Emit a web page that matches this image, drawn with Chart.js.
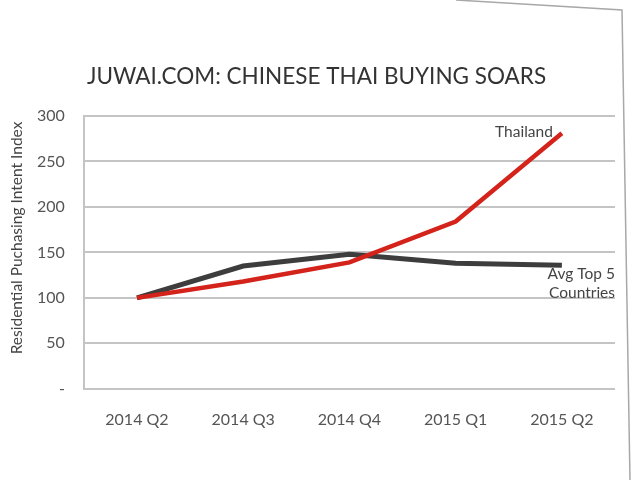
<!DOCTYPE html>
<html>
<head>
<meta charset="utf-8">
<script src="https://cdn.jsdelivr.net/npm/chart.js@4/dist/chart.umd.min.js"></script>
<style>
  html, body { margin: 0; padding: 0; background: #fff; }
  #wrap { width: 632px; height: 480px; }
</style>
</head>
<body>
<div id="wrap"><canvas id="juwaiChart" width="632" height="480"></canvas></div>
<script>
const quarters = ['2014 Q2', '2014 Q3', '2014 Q4', '2015 Q1', '2015 Q2'];
const thailand = [100, 118, 139, 184, 281];
const avgTop5 = [100, 135, 148, 138, 136];
const yTicks = [0, 50, 100, 150, 200, 250, 300];
const yTitle = 'Residential Puchasing Intent Index';

// paper edge, y title and end-of-line labels
const extras = {
    id: 'extras',
    afterDatasetsDraw(chart) {
        const ctx = chart.ctx;
        const x = chart.scales.x, y = chart.scales.y;
        const last = quarters.length - 1;
        ctx.save();
        ctx.font = '15.5px Lato';
        ctx.fillStyle = '#444';
        ctx.textAlign = 'right';
        ctx.textBaseline = 'middle';
        ctx.fillText('Thailand', x.getPixelForValue(last) - 9, y.getPixelForValue(thailand[last]) - 1);
        ctx.fillText('Avg Top 5', chart.chartArea.right, y.getPixelForValue(avgTop5[last]) + 9);
        ctx.fillText('Countries', chart.chartArea.right, y.getPixelForValue(avgTop5[last]) + 28);
        ctx.restore();

        ctx.save();
        ctx.translate(17, 238);
        ctx.rotate(-Math.PI / 2);
        ctx.font = '15.5px Lato';
        ctx.fillStyle = '#444';
        ctx.textAlign = 'center';
        ctx.textBaseline = 'middle';
        ctx.fillText(yTitle, 0, 0);
        ctx.restore();
    },
    afterDraw(chart) {
        const ctx = chart.ctx;
        ctx.save();
        ctx.strokeStyle = '#a8a8a8';
        ctx.lineWidth = 1.5;
        ctx.beginPath();
        ctx.moveTo(456, 0);
        ctx.lineTo(622, 10);
        ctx.lineTo(630, 480);
        ctx.stroke();
        ctx.restore();
    }
};

new Chart(document.getElementById('juwaiChart').getContext('2d'), {
    type: 'line',
    data: {
        labels: quarters,
        datasets: [
            {
                label: 'Thailand',
                data: thailand,
                borderColor: '#d3231b',
                borderWidth: 4.5,
                pointRadius: 0,
                tension: 0
            },
            {
                label: 'Avg Top 5 Countries',
                data: avgTop5,
                borderColor: '#3d3d3d',
                borderWidth: 5,
                pointRadius: 0,
                tension: 0
            }
        ]
    },
    options: {
        responsive: false,
        animation: false,
        layout: { padding: { left: 18, right: 17, top: 63, bottom: 38 } },
        plugins: {
            legend: { display: false },
            tooltip: { enabled: false },
            title: {
                display: true,
                text: 'JUWAI.COM: CHINESE THAI BUYING SOARS',
                color: '#333',
                font: { family: 'Lato', size: 22.5, weight: 'normal' },
                padding: { top: 0, bottom: 26 }
            }
        },
        scales: {
            x: {
                offset: true,
                grid: { display: false },
                border: { display: false },
                ticks: { color: '#555', font: { family: 'Lato', size: 16 }, padding: 13, maxRotation: 0 }
            },
            y: {
                min: 0,
                max: 300,
                afterBuildTicks: axis => { axis.ticks = yTicks.map(v => ({ value: v })); },
                grid: { color: '#c4c4c4', lineWidth: 2, drawTicks: false },
                border: { display: true, color: '#c4c4c4', width: 2 },
                ticks: {
                    color: '#555',
                    font: { family: 'Lato', size: 16 },
                    padding: 19,
                    callback: v => v === 0 ? '-' : v
                }
            }
        }
    },
    plugins: [extras]
});
</script>
</body>
</html>
